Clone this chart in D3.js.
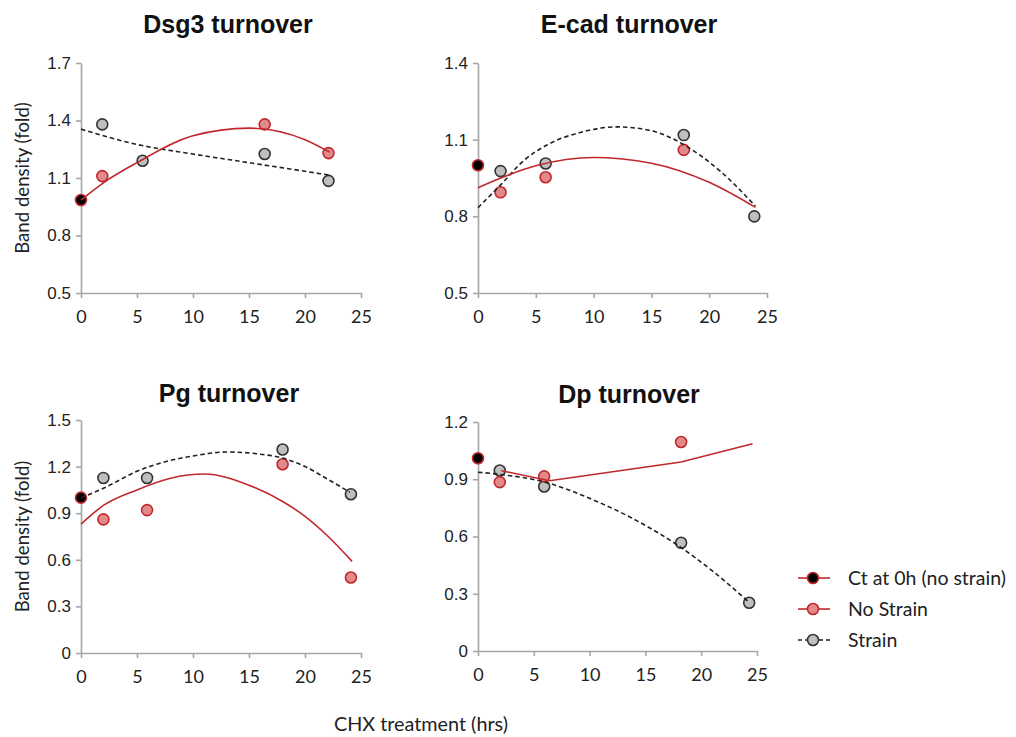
<!DOCTYPE html>
<html><head><meta charset="utf-8">
<script src="https://cdn.jsdelivr.net/npm/d3@7"></script>
<style>
body{margin:0;background:#fff;}
svg{display:block;}
</style></head>
<body>
<svg id="chart" width="1016" height="737"></svg>
<script>
// ---------- DATA ----------
const xTicks = [0, 5, 10, 15, 20, 25];
const xTickLabels = ["0", "5", "10", "15", "20", "25"];

const panelTitles = ["Dsg3 turnover", "E-cad turnover", "Pg turnover", "Dp turnover"];

// y tick values and labels per panel
const dsg3YTicks = [0.5, 0.8, 1.1, 1.4, 1.7];
const dsg3YLabels = ["0.5", "0.8", "1.1", "1.4", "1.7"];
const ecadYTicks = [0.5, 0.8, 1.1, 1.4];
const ecadYLabels = ["0.5", "0.8", "1.1", "1.4"];
const pgYTicks = [0, 0.3, 0.6, 0.9, 1.2, 1.5];
const pgYLabels = ["0", "0.3", "0.6", "0.9", "1.2", "1.5"];
const dpYTicks = [0, 0.3, 0.6, 0.9, 1.2];
const dpYLabels = ["0", "0.3", "0.6", "0.9", "1.2"];

// Dsg3
const dsg3CtX = [0], dsg3CtY = [0.985];
const dsg3NoStrainX = [1.9, 16.4, 22.1], dsg3NoStrainY = [1.11, 1.38, 1.23];
const dsg3StrainX = [1.9, 5.5, 16.4, 22.1], dsg3StrainY = [1.38, 1.19, 1.225, 1.085];
const dsg3NoStrainTrendX = [0, 2, 5, 10, 15, 20, 22.2];
const dsg3NoStrainTrendY = [0.985, 1.075, 1.18, 1.32, 1.36, 1.30, 1.235];
const dsg3StrainTrendX = [0, 5, 10, 15, 20, 22.2];
const dsg3StrainTrendY = [1.355, 1.275, 1.225, 1.18, 1.135, 1.115];

// E-cad
const ecadCtX = [0], ecadCtY = [1.0];
const ecadNoStrainX = [1.95, 5.85, 17.8], ecadNoStrainY = [0.894, 0.953, 1.06];
const ecadStrainX = [1.95, 5.85, 17.8, 23.9], ecadStrainY = [0.977, 1.007, 1.118, 0.80];
const ecadNoStrainTrendX = [0, 5, 10, 15, 20, 24];
const ecadNoStrainTrendY = [0.912, 0.998, 1.03, 1.008, 0.933, 0.835];
const ecadStrainTrendX = [0, 2, 4, 6, 9, 12, 15, 18, 21, 24];
const ecadStrainTrendY = [0.834, 0.925, 1.02, 1.08, 1.13, 1.15, 1.135, 1.075, 0.975, 0.84];

// Pg
const pgCtX = [0], pgCtY = [1.0];
const pgNoStrainX = [2, 5.9, 18, 24.1], pgNoStrainY = [0.86, 0.92, 1.215, 0.486];
const pgStrainX = [2, 5.9, 18, 24.1], pgStrainY = [1.127, 1.127, 1.31, 1.022];
const pgNoStrainTrendX = [0, 2, 5, 8, 11, 15, 18, 20, 22, 24.2];
const pgNoStrainTrendY = [0.83, 0.95, 1.05, 1.125, 1.152, 1.08, 0.975, 0.88, 0.755, 0.59];
const pgStrainTrendX = [0, 2, 5, 8, 10, 13, 16, 18, 20, 22, 24];
const pgStrainTrendY = [1.0, 1.06, 1.17, 1.24, 1.268, 1.294, 1.28, 1.255, 1.2, 1.12, 1.035];

// Dp
const dpCtX = [0], dpCtY = [1.01];
const dpNoStrainX = [1.95, 5.93, 18.2], dpNoStrainY = [0.885, 0.915, 1.095];
const dpStrainX = [1.95, 5.93, 18.2, 24.3], dpStrainY = [0.946, 0.862, 0.567, 0.253];
const dpNoStrainTrendX = [2.1, 6.4, 18.2, 24.6];
const dpNoStrainTrendY = [0.945, 0.892, 0.99, 1.086];
const dpStrainTrendX = [0, 2, 6, 10, 14, 18, 21, 24.3];
const dpStrainTrendY = [0.937, 0.925, 0.885, 0.80, 0.69, 0.55, 0.42, 0.255];

const legendLabels = ["Ct at 0h (no strain)", "No Strain", "Strain"];
const xAxisLabel = "CHX treatment (hrs)";
const yAxisLabel = "Band density (fold)";

// ---------- STYLE ----------
const RED = "#c0282d";
const NS_FILL = "#e28a8a";
const GREY_FILL = "#bfbfbf";
const GREY_STROKE = "#333333";
const AXIS = "#a6a6a6";
const R = 5.5;

const zip = (xs, ys) => xs.map((x, i) => ({x, y: ys[i]}));

const panels = [
  {title: panelTitles[0], x0: 81, x1: 361, y0: 293, y1: 63, dom: [0.5, 1.7], yT: dsg3YTicks, yL: dsg3YLabels,
   ct: zip(dsg3CtX, dsg3CtY), ns: zip(dsg3NoStrainX, dsg3NoStrainY), st: zip(dsg3StrainX, dsg3StrainY),
   nsT: zip(dsg3NoStrainTrendX, dsg3NoStrainTrendY), stT: zip(dsg3StrainTrendX, dsg3StrainTrendY),
   curve: d3.curveMonotoneX, tx: 228, ty: 33, ylab: true},
  {title: panelTitles[1], x0: 478, x1: 767, y0: 293, y1: 63, dom: [0.5, 1.4], yT: ecadYTicks, yL: ecadYLabels,
   ct: zip(ecadCtX, ecadCtY), ns: zip(ecadNoStrainX, ecadNoStrainY), st: zip(ecadStrainX, ecadStrainY),
   nsT: zip(ecadNoStrainTrendX, ecadNoStrainTrendY), stT: zip(ecadStrainTrendX, ecadStrainTrendY),
   curve: d3.curveMonotoneX, tx: 629, ty: 33, ylab: false},
  {title: panelTitles[2], x0: 81, x1: 361, y0: 653, y1: 420, dom: [0, 1.5], yT: pgYTicks, yL: pgYLabels,
   ct: zip(pgCtX, pgCtY), ns: zip(pgNoStrainX, pgNoStrainY), st: zip(pgStrainX, pgStrainY),
   nsT: zip(pgNoStrainTrendX, pgNoStrainTrendY), stT: zip(pgStrainTrendX, pgStrainTrendY),
   curve: d3.curveMonotoneX, tx: 229, ty: 402, ylab: true},
  {title: panelTitles[3], x0: 478, x1: 757, y0: 651, y1: 422, dom: [0, 1.2], yT: dpYTicks, yL: dpYLabels,
   ct: zip(dpCtX, dpCtY), ns: zip(dpNoStrainX, dpNoStrainY), st: zip(dpStrainX, dpStrainY),
   nsT: zip(dpNoStrainTrendX, dpNoStrainTrendY), stT: zip(dpStrainTrendX, dpStrainTrendY),
   curve: d3.curveLinear, curveSt: d3.curveMonotoneX, tx: 629, ty: 403, ylab: false}
];

const svg = d3.select("#chart");
const TICKFONT_Y = "'Liberation Sans Narrow','Arial Narrow','Liberation Sans',sans-serif";
const CAL = "Lato, 'Open Sans', sans-serif";

panels.forEach(p => {
  const x = d3.scaleLinear().domain([0, 25]).range([p.x0, p.x1]);
  const y = d3.scaleLinear().domain(p.dom).range([p.y0, p.y1]);
  const g = svg.append("g");

  // title
  g.append("text").attr("x", p.tx).attr("y", p.ty).attr("text-anchor", "middle")
    .attr("font-family", "'Liberation Sans', Arial, sans-serif").attr("font-weight", "bold")
    .attr("font-size", 25).attr("fill", "#111").text(p.title);

  // axes
  const yAx = g.append("g").attr("transform", `translate(${p.x0},0)`)
    .call(d3.axisLeft(y).tickValues(p.yT).tickFormat((d, i) => p.yL[i]).tickSize(5).tickSizeOuter(0).tickPadding(5));
  yAx.selectAll("text").attr("font-family", TICKFONT_Y).attr("font-size", 17).attr("fill", "#222");
  const xAx = g.append("g").attr("transform", `translate(0,${p.y0})`)
    .call(d3.axisBottom(x).tickValues(xTicks).tickFormat((d, i) => xTickLabels[i]).tickSize(5).tickSizeOuter(0).tickPadding(12));
  xAx.selectAll("text").attr("font-family", CAL).attr("font-size", 18).attr("fill", "#222");
  [yAx, xAx].forEach(a => {
    a.select(".domain").attr("stroke", AXIS).attr("stroke-width", 1.6);
    a.selectAll(".tick line").attr("stroke", AXIS).attr("stroke-width", 1.6);
  });

  // points
  const dot = (data, fill, stroke) => g.append("g").selectAll("circle").data(data).join("circle")
    .attr("cx", d => x(d.x)).attr("cy", d => y(d.y)).attr("r", R)
    .attr("fill", fill).attr("stroke", stroke).attr("stroke-width", 1.6);
  dot(p.st, GREY_FILL, GREY_STROKE);
  dot(p.ns, NS_FILL, RED);
  dot(p.ct, "#000", RED);

  // trend lines
  const line = c => d3.line().x(d => x(d.x)).y(d => y(d.y)).curve(c);
  g.append("path").attr("d", line(p.curveSt || p.curve)(p.stT)).attr("fill", "none")
    .attr("stroke", "#222").attr("stroke-width", 1.6).attr("stroke-dasharray", "4.5,3");
  g.append("path").attr("d", line(p.curve)(p.nsT)).attr("fill", "none")
    .attr("stroke", RED).attr("stroke-width", 1.6);

  if (p.ylab) {
    const cy = (p.y0 + p.y1) / 2;
    g.append("text").attr("transform", `translate(29,${cy}) rotate(-90)`).attr("text-anchor", "middle")
      .attr("font-family", CAL).attr("font-size", 18.6).attr("fill", "#222").text(yAxisLabel);
  }
});

// x axis label
svg.append("text").attr("x", 421).attr("y", 731).attr("text-anchor", "middle")
  .attr("font-family", CAL).attr("font-size", 19.8).attr("fill", "#222").text(xAxisLabel);

// legend
const legY = [578, 609, 640];
const lg = svg.append("g");
legendLabels.forEach((lab, i) => {
  const yy = legY[i];
  const ln = lg.append("line").attr("x1", 798).attr("x2", 830).attr("y1", yy).attr("y2", yy)
    .attr("stroke-width", 1.6);
  if (i === 2) ln.attr("stroke", "#222").attr("stroke-dasharray", "4,3");
  else ln.attr("stroke", RED);
  lg.append("circle").attr("cx", 813).attr("cy", yy).attr("r", R)
    .attr("fill", i === 0 ? "#000" : i === 1 ? NS_FILL : GREY_FILL)
    .attr("stroke", i === 2 ? GREY_STROKE : RED).attr("stroke-width", 1.6);
  lg.append("text").attr("x", 848).attr("y", yy + 7).attr("font-family", CAL).attr("font-size", 19.5)
    .attr("fill", "#222").text(lab);
});
</script>
</body></html>
